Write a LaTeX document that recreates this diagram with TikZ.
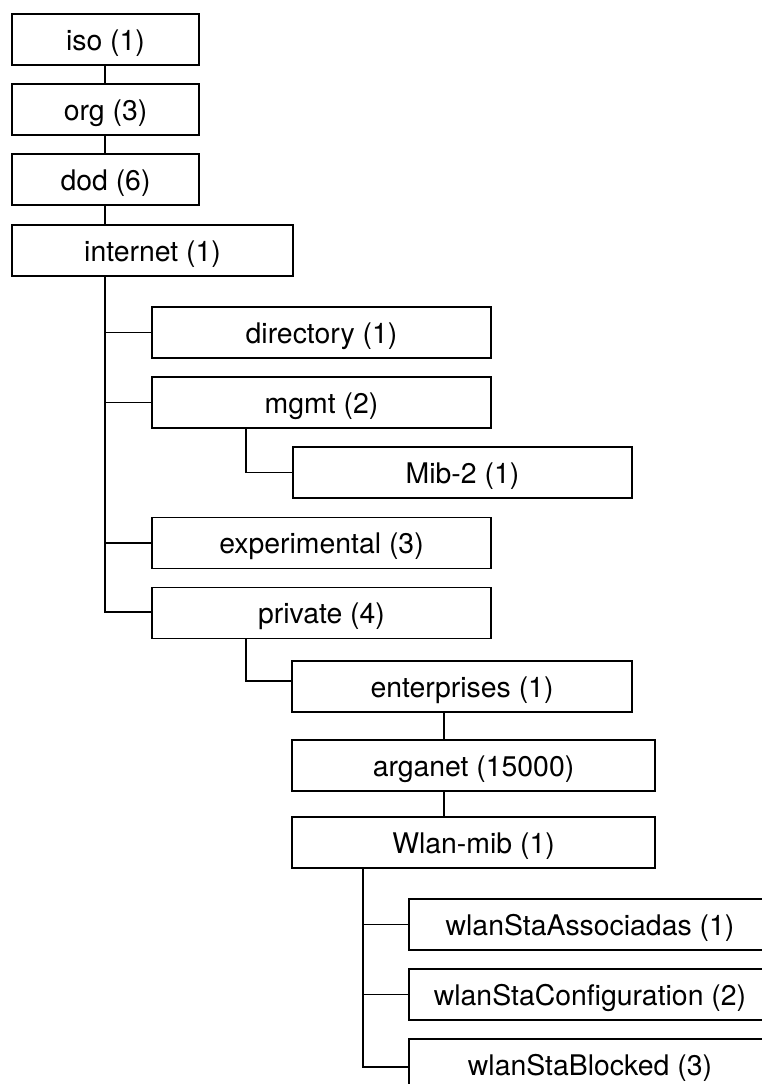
\documentclass[tikz,border=0pt]{standalone}
\usepackage{fontspec}
\setmainfont{TeX Gyre Heros}
\begin{document}
\begin{tikzpicture}[x=1pt,y=-1pt,
  oid/.style={draw, rectangle, line width=1.3pt, inner sep=0pt,
    minimum height=51pt, font=\fontsize{28.4}{34}\selectfont,
    text height=21pt, text depth=0pt},
  link/.style={line width=1.3pt}]
\useasboundingbox (0,0) rectangle (762,1084);

% OID tree nodes
\node[oid, minimum width=187pt] (iso) at (105.5,39.5) {iso (1)};
\node[oid, minimum width=187pt] (org) at (105.5,109.5) {org (3)};
\node[oid, minimum width=187pt] (dod) at (105.5,179.5) {dod (6)};
\node[oid, minimum width=281pt] (internet) at (152.5,250.5) {internet (1)};
\node[oid, minimum width=339pt] (directory) at (321.5,332.5) {directory (1)};
\node[oid, minimum width=339pt] (mgmt) at (321.5,402.5) {mgmt (2)};
\node[oid, minimum width=339pt] (mib2) at (462.5,472.5) {Mib-2 (1)};
\node[oid, minimum width=339pt] (experimental) at (321.5,543) {experimental (3)};
\node[oid, minimum width=339pt] (private) at (321.5,613) {private (4)};
\node[oid, minimum width=340pt] (enterprises) at (462,686.5) {enterprises (1)};
\node[oid, minimum width=363pt] (arganet) at (473.5,765.5) {arganet (15000)};
\node[oid, minimum width=363pt] (wlanmib) at (473.5,842.5) {Wlan-mib (1)};
\node[oid, minimum width=362pt] (assoc) at (590,924.5) {wlanStaAssociadas (1)};
\node[oid, minimum width=362pt] (config) at (590,994.5) {wlanStaConfiguration (2)};
\node[oid, minimum width=362pt] (blocked) at (590,1064.5) {wlanStaBlocked (3)};

% x positions of the vertical spines
\coordinate (spineA) at (105,0);
\coordinate (spineB) at (246,0);
\coordinate (spineC) at (444,0);
\coordinate (spineD) at (363,0);

% top chain
\draw[link] (iso.south -| spineA) -- (org.north -| spineA);
\draw[link] (org.south -| spineA) -- (dod.north -| spineA);
\draw[link] (dod.south -| spineA) -- (internet.north -| spineA);

% internet subtree
\draw[link] (internet.south -| spineA) |- ([yshift=1pt]private.west);
\draw[link] (spineA |- directory.west) -- (directory.west);
\draw[link] (spineA |- mgmt.west) -- (mgmt.west);
\draw[link] (spineA |- experimental.west) -- (experimental.west);

% mgmt and private children
\draw[link] (mgmt.south -| spineB) |- (mib2.west);
\draw[link] (private.south -| spineB) |- ([yshift=5.5pt]enterprises.west);

% enterprises chain
\draw[link] (enterprises.south -| spineC) -- (arganet.north -| spineC);
\draw[link] (arganet.south -| spineC) -- (wlanmib.north -| spineC);

% Wlan-mib subtree
\draw[link] (wlanmib.south -| spineD) |- ([yshift=-2.5pt]blocked.west);
\draw[link] (spineD |- assoc.west) -- (assoc.west);
\draw[link] (spineD |- config.west) -- (config.west);
\end{tikzpicture}
\end{document}
